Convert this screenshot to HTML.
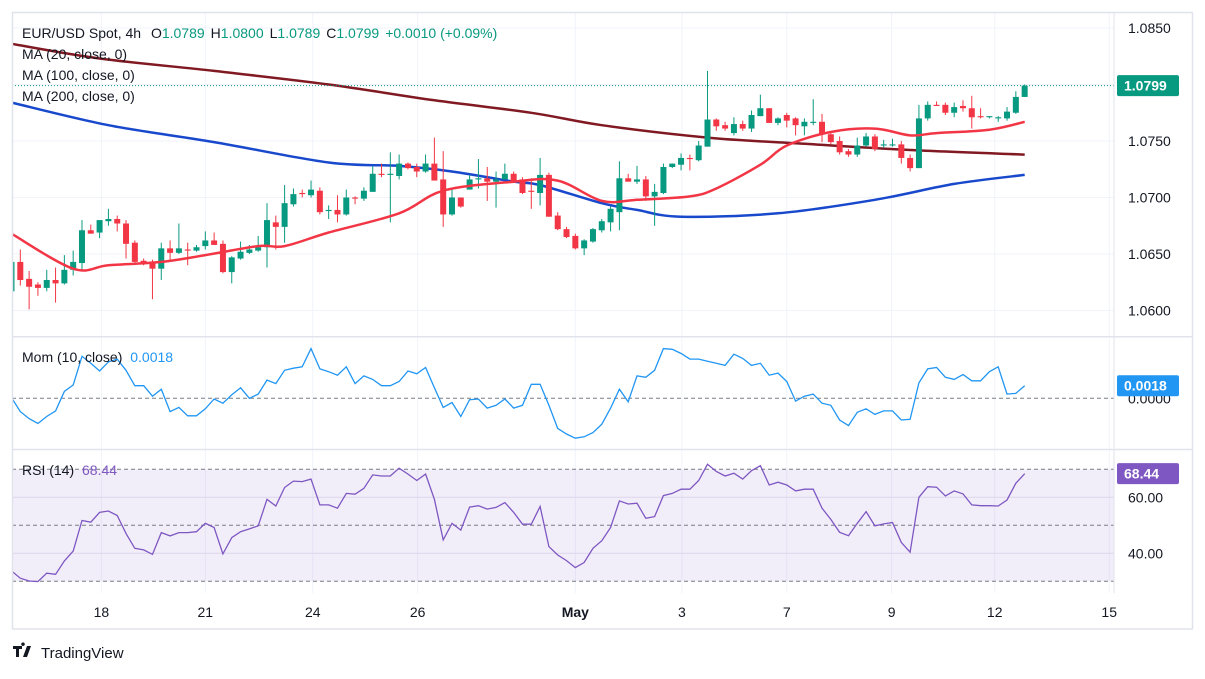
<!DOCTYPE html>
<html><head><meta charset="utf-8"><style>
body{margin:0;background:#fff;width:1205px;height:674px;overflow:hidden;font-family:"Liberation Sans",sans-serif}
svg text{font-family:"Liberation Sans",sans-serif}
</style></head><body>
<svg id="c" width="1205" height="674" xmlns="http://www.w3.org/2000/svg">
<defs>
<clipPath id="cm"><rect x="12" y="13" width="1102" height="323"/></clipPath>
<clipPath id="cmo"><rect x="12" y="337" width="1102" height="112"/></clipPath>
<clipPath id="cr"><rect x="12" y="450" width="1102" height="143"/></clipPath>
</defs>
<g id="grid"></g>
<rect x="12" y="469.3" width="1102" height="112" fill="rgba(126,87,194,0.1)"/>
<g id="main" clip-path="url(#cm)"></g>
<g id="mom" clip-path="url(#cmo)"></g>
<g id="rsi" clip-path="url(#cr)"></g>
<g id="frame"></g>
<g id="labels"></g>
</svg>
<script>
const O=[1.0617,1.0643,1.0628,1.0623,1.0620,1.0627,1.0624,1.0636,1.0642,1.0671,1.0669,1.0679,1.0681,1.0677,1.0660,1.0644,1.0642,1.0637,1.0655,1.0651,1.0654,1.0653,1.0657,1.0662,1.0659,1.0634,1.0646,1.0651,1.0653,1.0656,1.0678,1.0674,1.0694,1.0704,1.0702,1.0706,1.0688,1.0689,1.0685,1.0700,1.0699,1.0705,1.0721,1.0720,1.0719,1.0730,1.0727,1.0723,1.0730,1.0716,1.0685,1.0700,1.0707,1.0716,1.0717,1.0714,1.0716,1.0721,1.0716,1.0706,1.0704,1.0720,1.0684,1.0672,1.0666,1.0655,1.0661,1.0671,1.0678,1.0687,1.0717,1.0714,1.0716,1.0701,1.0704,1.0727,1.0729,1.0735,1.0733,1.0745,1.0769,1.0764,1.0757,1.0765,1.0761,1.0772,1.0779,1.0766,1.0773,1.0770,1.0763,1.0766,1.0767,1.0756,1.0750,1.0741,1.0738,1.0746,1.0754,1.0746,1.0746,1.0747,1.0735,1.0726,1.0770,1.0782,1.0782,1.0775,1.0781,1.0779,1.0772,1.0771,1.0770,1.0770,1.0775,1.0789];
const H=[1.0645,1.0654,1.0635,1.0625,1.0636,1.0638,1.0649,1.0653,1.0680,1.0676,1.0680,1.0690,1.0684,1.0680,1.0662,1.0646,1.0645,1.0660,1.0662,1.0677,1.0660,1.0658,1.0670,1.0669,1.0662,1.0648,1.0661,1.0658,1.0666,1.0695,1.0684,1.0711,1.0708,1.0707,1.0715,1.0709,1.0693,1.0702,1.0707,1.0701,1.0709,1.0728,1.0730,1.0740,1.0738,1.0731,1.0730,1.0738,1.0753,1.0741,1.0708,1.0700,1.0720,1.0734,1.0727,1.0723,1.0730,1.0723,1.0718,1.0717,1.0735,1.0722,1.0687,1.0674,1.0668,1.0663,1.0673,1.0681,1.0692,1.0732,1.0721,1.0728,1.0719,1.0712,1.0730,1.0730,1.0739,1.0738,1.0750,1.0812,1.0770,1.0767,1.0771,1.0768,1.0777,1.0791,1.0779,1.0771,1.0775,1.0771,1.0770,1.0787,1.0774,1.0757,1.0754,1.0743,1.0753,1.0757,1.0756,1.0751,1.0752,1.0750,1.0738,1.0782,1.0785,1.0785,1.0784,1.0784,1.0786,1.0790,1.0779,1.0772,1.0772,1.0780,1.0794,1.0800];
const L=[1.0615,1.0622,1.0601,1.0613,1.0617,1.0607,1.0623,1.0631,1.0636,1.0668,1.0664,1.0675,1.0670,1.0646,1.0642,1.0640,1.0610,1.0627,1.0643,1.0650,1.0640,1.0652,1.0654,1.0658,1.0633,1.0624,1.0645,1.0650,1.0652,1.0638,1.0654,1.0660,1.0692,1.0700,1.0700,1.0685,1.0681,1.0678,1.0684,1.0694,1.0697,1.0705,1.0718,1.0678,1.0716,1.0725,1.0718,1.0722,1.0715,1.0674,1.0684,1.0691,1.0707,1.0708,1.0697,1.0691,1.0716,1.0714,1.0703,1.0690,1.0693,1.0683,1.0671,1.0664,1.0654,1.0649,1.0660,1.0669,1.0670,1.0671,1.0714,1.0712,1.0697,1.0675,1.0703,1.0726,1.0724,1.0724,1.0732,1.0745,1.0759,1.0759,1.0755,1.0759,1.0758,1.0772,1.0766,1.0764,1.0762,1.0755,1.0755,1.0764,1.0749,1.0747,1.0738,1.0736,1.0736,1.0745,1.0741,1.0744,1.0745,1.0730,1.0723,1.0726,1.0768,1.0781,1.0773,1.0771,1.0776,1.0761,1.0770,1.0770,1.0767,1.0768,1.0774,1.0789];
const C=[1.0643,1.0627,1.0621,1.0620,1.0627,1.0624,1.0636,1.0643,1.0671,1.0668,1.0680,1.0681,1.0677,1.0659,1.0643,1.0642,1.0637,1.0655,1.0651,1.0655,1.0653,1.0656,1.0662,1.0658,1.0634,1.0647,1.0652,1.0654,1.0656,1.0680,1.0674,1.0695,1.0703,1.0703,1.0707,1.0687,1.0689,1.0685,1.0700,1.0699,1.0706,1.0721,1.0720,1.0721,1.0730,1.0726,1.0723,1.0730,1.0715,1.0685,1.0700,1.0692,1.0716,1.0717,1.0714,1.0716,1.0721,1.0714,1.0704,1.0705,1.0720,1.0683,1.0672,1.0665,1.0655,1.0662,1.0672,1.0679,1.0690,1.0717,1.0714,1.0716,1.0701,1.0705,1.0727,1.0730,1.0735,1.0734,1.0746,1.0769,1.0763,1.0761,1.0765,1.0761,1.0773,1.0779,1.0766,1.0770,1.0768,1.0764,1.0767,1.0767,1.0756,1.0749,1.0740,1.0738,1.0746,1.0754,1.0743,1.0747,1.0747,1.0735,1.0726,1.0770,1.0782,1.0781,1.0775,1.0780,1.0779,1.0771,1.0771,1.0772,1.0771,1.0776,1.0789,1.0799];
const ma20Idx=[0,7,11,17,22,28,31,36,44,49,57,62,67,71,77,80,85,88,93,98,102,105,111,115];
const ma20Val=[1.0668,1.0637,1.0640,1.0643,1.0649,1.0657,1.0657,1.0669,1.0686,1.0706,1.0714,1.0715,1.0697,1.0698,1.0701,1.0708,1.0729,1.0746,1.0758,1.0761,1.0755,1.0757,1.0760,1.0767];
const ma100Idx=[0,11,23,36,44,50,57,60,67,71,76,87,98,107,115];
const ma100Val=[1.0784,1.0764,1.0749,1.0731,1.0728,1.0723,1.0714,1.0711,1.0695,1.0689,1.0683,1.0686,1.0698,1.0712,1.0720];
const ma200Idx=[0,10,23,36,48,59,67,79,89,102,115];
const ma200Val=[1.0836,1.0823,1.0812,1.0800,1.0786,1.0775,1.0764,1.0753,1.0748,1.0742,1.0738];
const mom=[0.0001,-0.0019,-0.0029,-0.0036,-0.0026,-0.0018,0.0010,0.0019,0.0060,0.0050,0.0039,0.0052,0.0056,0.0040,0.0018,0.0018,0.0003,0.0013,-0.0019,-0.0013,-0.0025,-0.0025,-0.0015,-0.0001,-0.0007,0.0005,0.0015,0,0.0006,0.0026,0.0021,0.0040,0.0043,0.0045,0.0071,0.0042,0.0038,0.0033,0.0045,0.0021,0.0032,0.0027,0.0018,0.0018,0.0024,0.0039,0.0035,0.0044,0.0015,-0.0013,-0.0006,-0.0026,-0.0002,-0.0001,-0.0014,-0.0010,-0.0001,-0.0014,-0.0010,0.0020,0.0020,-0.0010,-0.0043,-0.0051,-0.0057,-0.0055,-0.0049,-0.0037,-0.0014,0.0013,-0.0005,0.0032,0.0030,0.0040,0.0071,0.0070,0.0064,0.0056,0.0056,0.0053,0.0050,0.0047,0.0063,0.0057,0.0047,0.0050,0.0033,0.0036,0.0024,-0.0004,0.0003,0.0006,-0.0007,-0.0010,-0.0031,-0.0039,-0.0020,-0.0015,-0.0023,-0.0018,-0.0018,-0.0031,-0.0030,0.0022,0.0042,0.0044,0.0030,0.0027,0.0034,0.0025,0.0025,0.0038,0.0045,0.0006,0.0007,0.0018];
const rsi=[33.7,31.1,30.1,29.9,32.9,32.5,37.3,40.8,51.7,51.1,54.6,55.1,53.5,47.1,41.8,41.2,39.6,47.4,46.2,47.4,47.4,47.7,50.7,49.2,39.8,45.6,47.7,48.7,49.8,59.3,56.9,63.5,65.8,65.6,66.5,57.3,57.3,56.1,61.4,61.1,63.2,68.0,67.6,67.6,70.4,68.3,66.0,68.3,59.3,44.8,50.7,48.3,56.5,57.0,55.8,56.4,58.1,54.6,50.4,50.4,56.7,42.4,39.4,37.4,34.9,36.7,41.8,44.5,49.2,58.7,57.6,57.9,52.5,53.1,60.6,61.4,62.9,62.9,66.0,71.8,69.2,67.6,68.6,66.5,69.5,71.3,64.4,65.4,64.4,62.3,62.9,62.9,56.1,52.1,47.5,46.3,50.7,54.9,49.8,50.5,51.0,43.9,40.4,60.0,63.8,63.6,60.5,62.3,61.2,57.3,57.0,57.0,56.9,59.0,65.0,68.44];
const dateLabels=["18","21","24","26","May","3","7","9","12","15"];
const dateIdx=[10.2,22,34.2,46.1,64,76.1,88,99.9,111.6,124.6];
const priceTicks=[1.0850,1.0800,1.0750,1.0700,1.0650,1.0600];
const rsiTicks=[60,40];

const NS="http://www.w3.org/2000/svg";
const xS=i=>11.5+8.81*i;
const yP=p=>28+(1.085-p)/0.005*56.5;
const yM=m=>398.3-m*7000;
const yR=r=>525.3-(r-50)*2.8;
function mk(par,tag,at){const e=document.createElementNS(NS,tag);for(const k in at)e.setAttribute(k,at[k]);document.getElementById(par).appendChild(e);return e;}
dateIdx.forEach((d,k)=>{const g=mk('grid','line',{x1:xS(d),x2:xS(d),y1:13,y2:593,stroke:'#f0f3fa'});

});
priceTicks.forEach(p=>{const g=mk('grid','line',{x1:12,x2:1114,y1:yP(p),y2:yP(p),stroke:'#f0f3fa'});

});
rsiTicks.forEach(r=>{const g=mk('grid','line',{x1:12,x2:1114,y1:yR(r),y2:yR(r),stroke:'#e8e4f3'});

});
function line(par,idx,val,col,w,name){
const P=idx.map((i,k)=>[xS(i),yP(val[k])]);
let d='M'+P[0][0].toFixed(1)+' '+P[0][1].toFixed(1);
for(let k=0;k<P.length-1;k++){const p0=P[Math.max(0,k-1)],p1=P[k],p2=P[k+1],p3=P[Math.min(P.length-1,k+2)];
const c1=[p1[0]+(p2[0]-p0[0])/6,p1[1]+(p2[1]-p0[1])/6],c2=[p2[0]-(p3[0]-p1[0])/6,p2[1]-(p3[1]-p1[1])/6];
d+='C'+c1[0].toFixed(1)+' '+c1[1].toFixed(1)+' '+c2[0].toFixed(1)+' '+c2[1].toFixed(1)+' '+p2[0].toFixed(1)+' '+p2[1].toFixed(1);}
const e=mk(par,'path',{d:d,fill:'none',stroke:col,'stroke-width':w,'stroke-linejoin':'round'});

}
line('main',ma200Idx,ma200Val,'#801922',2.5,'ma200-line');
line('main',ma100Idx,ma100Val,'#1848cc',2.5,'ma100-line');
for(let i=0;i<O.length;i++){const up=C[i]>=O[i];const col=up?'#089981':'#f23645';const x=xS(i);
const w=mk('main','line',{x1:x,x2:x,y1:yP(H[i]),y2:yP(L[i]),stroke:col,'stroke-width':1});


const t=yP(Math.max(O[i],C[i])),b=yP(Math.min(O[i],C[i]));
const r=mk('main','rect',{x:x-3,y:t,width:6,height:Math.max(1,b-t),fill:col});

}
line('main',ma20Idx,ma20Val,'#f23645',2.5,'ma20-line');
const lp=C[C.length-1];
const dl=mk('main','line',{x1:12,x2:1114,y1:yP(lp),y2:yP(lp),stroke:'#089981','stroke-dasharray':'1 2'});


const z=mk('mom','line',{x1:12,x2:1114,y1:yM(0),y2:yM(0),stroke:'#787b86','stroke-dasharray':'4 3'});


const mp=mk('mom','path',{d:mom.map((m,i)=>(i?'L':'M')+xS(i).toFixed(1)+' '+yM(m).toFixed(1)).join(''),fill:'none',stroke:'#2196f3','stroke-width':1.3});


[70,50,30].forEach(v=>{const e=mk('rsi','line',{x1:12,x2:1114,y1:yR(v),y2:yR(v),stroke:'#787b86','stroke-dasharray':'4 3'});

});
const rp=mk('rsi','path',{d:rsi.map((r,i)=>(i?'L':'M')+xS(i).toFixed(1)+' '+yR(r).toFixed(1)).join(''),fill:'none',stroke:'#7e57c2','stroke-width':1.3});


[[12,12.5,1193,12.5],[12,629,1193,629],[12.5,12,12.5,629],[1192.5,12,1192.5,629],[1114,12,1114,593],[12,336.7,1193,336.7],[12,449.5,1193,449.5]].forEach(a=>{const e=mk('frame','line',{x1:a[0],y1:a[1],x2:a[2],y2:a[3],stroke:'#e0e3eb','stroke-width':a[0]===1114?1:1.5});

});
function tx(x,y,s,col,sz,anchor,name,wt){const e=mk('labels','text',{x:x,y:y,fill:col,'font-size':sz,'text-anchor':anchor||'start','font-weight':wt||'normal'});e.textContent=s;

return e;}
priceTicks.forEach(p=>tx(1128,yP(p)+5,p.toFixed(4),'#131722',14,'start','price-tick'));
dateLabels.forEach((d,k)=>tx(xS(dateIdx[k]),617,d,'#131722',14,'middle','date-tick',d==='May'?'bold':'normal'));
tx(1128,yM(0)+5,'0.0000','#131722',14,'start','mom-zero-tick');
rsiTicks.forEach(r=>tx(1128,yR(r)+5,r.toFixed(2),'#131722',14,'start','rsi-tick'));
function badge(y,s,col,name){const r=mk('labels','rect',{x:1117,y:y-10.5,width:62,height:21,rx:2,fill:col});


tx(1124,y+5,s,'#fff',14,'start',name,'bold');}
badge(yP(lp),lp.toFixed(4),'#089981','last-price-badge');
badge(yM(mom[mom.length-1]),mom[mom.length-1].toFixed(4),'#2196f3','mom-badge');
badge(yR(rsi[rsi.length-1]),rsi[rsi.length-1].toFixed(2),'#7e57c2','rsi-badge');
const hd=mk('labels','text',{x:22,y:38,'font-size':14,fill:'#131722'});


hd.innerHTML='EUR/USD Spot, 4h  <tspan dx="6">O</tspan><tspan fill="#089981">1.0789</tspan><tspan dx="6">H</tspan><tspan fill="#089981">1.0800</tspan><tspan dx="6">L</tspan><tspan fill="#089981">1.0789</tspan><tspan dx="6">C</tspan><tspan fill="#089981">1.0799</tspan><tspan dx="6" fill="#089981">+0.0010 (+0.09%)</tspan>';
tx(22,59,'MA (20, close, 0)','#131722',14,'start','ma20-legend');
tx(22,80,'MA (100, close, 0)','#131722',14,'start','ma100-legend');
tx(22,101,'MA (200, close, 0)','#131722',14,'start','ma200-legend');
const ml=mk('labels','text',{x:22,y:362,'font-size':14,fill:'#131722'});


ml.innerHTML='Mom (10, close) <tspan dx="4" fill="#2196f3">0.0018</tspan>';
const rl=mk('labels','text',{x:22,y:475,'font-size':14,fill:'#131722'});


rl.innerHTML='RSI (14) <tspan dx="4" fill="#7e57c2">68.44</tspan>';
const lg=mk('labels','g',{});


lg.innerHTML='<path d="M13 646h9v3h-3v8h-3v-8h-3z M23 646a1.8 1.8 0 1 1 0.01 0z M27 646h4l-4 11h-4z" fill="#131722"/><text x="41" y="658" font-size="15" fill="#131722">TradingView</text>';
</script>
</body></html>
